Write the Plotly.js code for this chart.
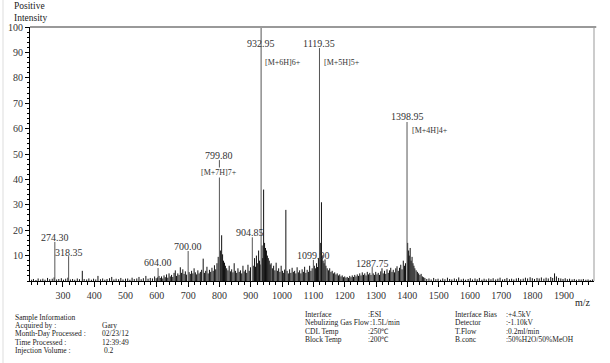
<!DOCTYPE html>
<html><head><meta charset="utf-8">
<script src="https://cdn.plot.ly/plotly-3.0.1.min.js"></script>
<style>html,body{margin:0;padding:0;background:#fff}#chart{width:610px;height:363px}</style>
</head><body><div id="chart"></div>
<script>
// Labelled peaks
const peakMz  = [274.30, 318.35, 604.00, 700.00, 799.80, 904.85, 932.95, 1099.90, 1119.35, 1287.75, 1398.95];
const peakInt = [15.4, 9.8, 5.1, 11.8, 47.6, 17.2, 100, 8.3, 91.7, 5.5, 62.6];
const peakLabel = ['274.30','318.35','604.00','700.00','799.80','904.85','932.95','1099.90','1119.35','1287.75','1398.95'];
// Charge-state assignments
const ionMz = [799.80, 932.95, 1119.35, 1398.95];
const ionLabel = ['[M+7H]7+', '[M+6H]6+', '[M+5H]5+', '[M+4H]4+'];
// Other (unlabelled) signals / noise
const noiseMz = [200,206,214,221,229,236,243,251,258,266,272,280,287,295,302,309,316,324,331,338,346,353,362,368,376,383,391,398,405,412,420,427,434,441,449,456,463,470,478,485,492,500,507,514,521,528,536,543,550,557,565,572,579,586,593,598,
602,607,611,615,619,623,627,631,635,639,643,647,651,655,659,663,667,671,675,679,683,687,691,695,703,707,711,715,719,723,727,731,735,739,743,748,752,756,760,764,768,772,776,780,784,788,792,796,803,807,810,813,816,819,823,827,831,835,839,843,847,851,855,859,863,867,871,875,879,883,887,891,895,899,908,912,915,918,921,925,928,930,936,938,941,944,947,950,953,956,959,962,965,969,973,977,981,985,989,993,997,1001,1005,1008,1012,1016,1020,1024,1028,1032,1036,1040,1044,1048,1052,1056,1060,1064,1068,1072,1076,1080,1084,1088,1092,1096,1103,1107,1110,1113,1116,1122,1125.7,1128,1131,1134,1137,1140,1144,1148,1152,1156,1160,1164,1168,1172,1176,1180,1184,1188,1192,1196,1200,1204,1208,1212,1216,1220,1224,1228,1232,1236,1240,1244,1248,1252,1256,1260,1264,1268,1272,1276,1280,1284,1291,1295,1299,1303,1307,1311,1315,1319,1323,1327,1331,1335,1339,1343,1347,1351,1355,1359,1363,1367,1371,1375,1379,1383,1387,1391,1394,1401,1404,1406,1409,1412,1415,1418,1421,1424,1428,1432,1436,1440,1444,1448,1452,1456,
1462,1469,1476,1484,1491,1498,1506,1513,1520,1528,1535,1542,1550,1557,1564,1572,1579,1586,1594,1601,1608,1616,1623,1630,1638,1645,1652,1660,1667,1674,1682,1689,1696,1704,1711,1718,1726,1733,1740,1748,1755,1762,1770,1777,1784,1792,1799,1806,1814,1821,1828,1836,1843,1850,1858,1864,1870,1876,1883,1890,1897,1904,1911,1918,1926,1933,1940,1948,1955,1962,1970,1977,1984,1991];
const noiseInt = [0.5,0.8,0.4,1.0,0.6,0.9,0.5,1.2,0.7,0.9,1.4,0.6,0.8,1.1,0.5,0.9,1.3,0.6,0.8,0.5,1.0,0.7,4.0,0.8,0.6,1.0,0.5,0.9,0.6,2.0,0.7,1.0,0.5,0.8,1.1,1.6,0.6,0.9,0.7,1.2,0.6,0.9,1.0,0.5,1.3,0.8,1.0,1.6,0.7,1.1,2.0,0.9,1.2,1.0,1.8,1.1,
1.4,2.0,1.2,1.8,1.0,2.2,1.5,2.6,1.3,3.0,1.8,2.4,1.6,3.2,4.2,2.0,3.0,2.4,5.4,3.2,4.6,2.8,3.8,2.5,3.5,2.8,4.0,3.0,5.0,3.4,2.6,4.2,3.0,3.6,4.4,8.8,3.2,4.0,5.6,3.0,4.4,3.6,5.2,4.0,6.2,4.6,7.0,9.5,12.0,18.0,10.5,8.0,7.2,6.0,5.0,4.2,6.0,3.8,4.6,3.4,7.0,4.0,3.2,5.0,3.6,4.2,3.0,6.0,3.8,4.4,3.2,6.4,4.0,5.4,6.0,9.0,5.6,10.0,7.0,12.0,8.0,6.5,14.0,9.0,36.0,15.0,13.0,12.0,10.0,9.0,8.0,6.5,7.0,5.0,6.0,4.2,7.2,4.0,5.0,3.6,6.0,4.0,3.2,4.5,28.0,4.0,3.0,4.6,3.2,5.2,3.6,4.0,3.0,5.4,3.4,4.2,3.0,4.6,3.6,5.6,3.2,4.4,3.6,6.0,4.0,5.0,6.0,5.0,7.0,5.5,9.0,15.0,31.0,10.0,8.0,7.0,8.5,6.0,5.0,4.2,5.0,3.6,4.0,3.0,3.4,2.6,3.0,2.2,2.6,1.8,2.2,1.5,1.8,1.3,1.6,1.2,2.0,1.5,2.2,1.6,2.4,1.8,2.6,2.0,3.0,2.2,3.4,2.4,3.0,2.2,3.6,2.6,3.2,2.4,3.0,2.4,3.6,2.6,3.2,2.4,3.8,5.0,3.0,4.0,2.8,4.6,3.2,4.2,5.2,3.6,4.4,3.4,5.0,5.8,4.0,5.2,6.4,4.6,8.0,6.0,7.0,15.0,12.0,10.0,13.0,8.0,9.5,7.0,6.0,5.0,4.2,3.6,3.0,2.4,2.8,1.8,1.5,1.2,
0.8,1.0,0.6,1.2,0.7,0.9,0.5,1.0,0.7,1.3,0.8,0.6,1.0,0.7,1.4,0.6,0.9,0.5,0.8,1.1,0.6,1.0,0.7,1.2,0.5,0.9,0.6,1.0,0.7,1.1,0.6,0.9,1.3,0.6,0.8,1.2,0.7,0.9,0.6,1.0,1.2,0.7,0.9,1.3,1.0,1.5,1.1,0.8,1.2,1.0,1.4,0.9,1.3,1.0,1.6,1.2,3.0,1.8,1.2,1.0,0.8,1.1,0.7,0.9,0.6,0.8,0.5,0.7,0.6,0.8,0.5,0.6,0.4,0.6];
const xTicks = [300,400,500,600,700,800,900,1000,1100,1200,1300,1400,1500,1600,1700,1800,1900];
const yTicks = [10,20,30,40,50,60,70,80,90,100];

function sticks(mz, it){
  const x=[], y=[];
  for(let i=0;i<mz.length;i++){ x.push(mz[i],mz[i],null); y.push(0,it[i],null); }
  return {x,y};
}
const n = sticks(noiseMz, noiseInt);
const p = sticks(peakMz, peakInt);
const SERIF = 'Liberation Serif, Times New Roman, serif';
const traces = [
  {type:'scatter', mode:'lines', x:n.x, y:n.y, line:{color:'#111', width:1}, hoverinfo:'skip', showlegend:false},
  {type:'scatter', mode:'lines', x:p.x, y:p.y, line:{color:'#555', width:1}, hoverinfo:'skip', showlegend:false}
];

// plot area in pixels: left 30, right 594, top 27, bottom 281
const L=30, R=594, T=27, B=281;
const px = v => (v-L)/(R-L);
const py = v => (B-v)/(B-T);
const yd = v => (B-v)/(B-T)*100;

const ann = [];
// peak label positions (pixel y of label centre)
const labelPy = [237, 252, 262, 246, 155, 232, 43, 255, 43, 263, 116];
const labelDx = [0, 0, 0, 0, 0, -2, 0, 0, 0, 0, 0];
peakMz.forEach((m,i)=>{
  ann.push({x:m, y:yd(labelPy[i]), xref:'x', yref:'y', text:peakLabel[i], showarrow:false,
    xanchor:'center', yanchor:'middle', xshift:labelDx[i], font:{family:SERIF, size:10, color:'#333'}});
});
const ionPy = [172, 62, 62, 130];
const ionAnchor = ['center','left','left','left'];
const ionShift = [0, 2, 3, 3];
ionMz.forEach((m,i)=>{
  const a = {x:m, y:yd(ionPy[i]), xref:'x', yref:'y', text:ionLabel[i], showarrow:false,
    xanchor:ionAnchor[i], yanchor:'middle', xshift:ionShift[i], font:{family:SERIF, size:8, color:'#333'}};
  if(i===0){ a.bgcolor='#fff'; a.borderpad=0; }
  ann.push(a);
});
function txt(x, y, s, size, anchor){
  ann.push({x:px(x), y:py(y), xref:'paper', yref:'paper', text:s, showarrow:false,
    xanchor:anchor||'left', yanchor:'middle', font:{family:SERIF, size:size||8, color:'#222'}});
}
txt(12, 6, 'Positive', 9.5);
txt(12, 17.5, 'Intensity', 9.5);
txt(583, 302, 'm/z', 10, 'center');
// sample information block
const infoL = ['Sample Information','Acquired by :','Month-Day Processed :','Time Processed :','Injection Volume :'];
const infoLy = [317, 325.5, 333.7, 342, 350.3];
infoL.forEach((s,i)=>txt(13, infoLy[i], s, 7.5));
const infoV = ['Gary','02/23/12','12:39:49',' 0.2'];
infoV.forEach((s,i)=>txt(100, infoLy[i+1], s, 7.5));
const midL = ['Interface','Nebulizing Gas Flow','CDL Temp','Block Temp'];
const midV = [':ESI',':1.5L/min',':250℃',':200℃'];
const midY = [314.3, 322.7, 331.3, 339.7];
midL.forEach((s,i)=>txt(303, midY[i], s, 7.5));
midV.forEach((s,i)=>txt(i===1?368:366, midY[i], s, 7.5));
const rgtL = ['Interface Bias','Detector','T.Flow','B.conc'];
const rgtV = [':+4.5kV',':-1.10kV',':0.2ml/min',':50%H2O/50%MeOH'];
rgtL.forEach((s,i)=>txt(453, midY[i], s, 7.5));
rgtV.forEach((s,i)=>txt(504, midY[i], s, 7.5));

const layout = {
  width:610, height:363,
  margin:{l:L, r:610-R, t:T, b:363-B, pad:0},
  paper_bgcolor:'#fff', plot_bgcolor:'#fff',
  showlegend:false,
  xaxis:{range:[195,1996], tickvals:xTicks, ticks:'outside', ticklen:5, tickcolor:'#000', tickwidth:1,
    minor:{dtick:20, tick0:0, ticks:'outside', ticklen:3, tickcolor:'#000'},
    showline:true, linecolor:'#000', linewidth:1, showgrid:false, zeroline:false,
    tickfont:{family:SERIF, size:10, color:'#333'}},
  yaxis:{range:[0,100], tickvals:yTicks, ticks:'outside', ticklen:4, tickcolor:'#000', tickwidth:1,
    minor:{dtick:2, tick0:0, ticks:'outside', ticklen:2, tickcolor:'#000'},
    showline:true, linecolor:'#000', linewidth:1, showgrid:false, zeroline:false,
    tickfont:{family:SERIF, size:10, color:'#333'}},
  shapes:[
    {type:'line', xref:'paper', yref:'paper', x0:0, x1:1.004, y0:1, y1:1, line:{color:'#999', width:2}},
    {type:'line', xref:'paper', yref:'paper', x0:1, x1:1, y0:0, y1:1, line:{color:'#999', width:1}},
    {type:'line', xref:'paper', yref:'paper', x0:px(3), x1:px(3), y0:py(0), y1:py(363), line:{color:'#ddd', width:1}}
  ],
  annotations:ann
};
Plotly.newPlot('chart', traces, layout, {staticPlot:true, displayModeBar:false});
</script>
</body></html>
